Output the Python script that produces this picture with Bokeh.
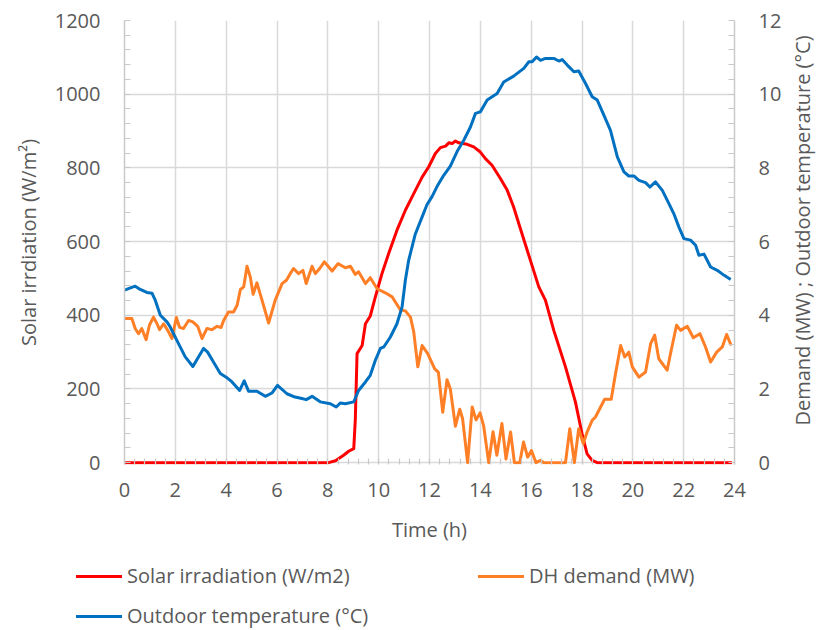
import math

from bokeh.plotting import figure
from bokeh.layouts import row, column
from bokeh.models import Range1d, LinearAxis, SingleIntervalTicker, Label, Div
from bokeh.embed import file_html
from bokeh.resources import INLINE

# Solar irradiation over the day (W/m2)
solar_time = [0, 8.03, 8.3, 8.62, 8.82, 9.02, 9.08, 9.15, 9.35, 9.48, 9.67, 9.87, 10.13,
              10.39, 10.72, 11.05, 11.38, 11.71, 11.97, 12.23, 12.43, 12.63, 12.76, 12.89,
              13.02, 13.15, 13.48, 13.74, 14.0, 14.2, 14.46, 14.79, 15.06, 15.31, 15.58,
              15.97, 16.3, 16.56, 16.89, 17.35, 17.74, 18.0, 18.2, 18.4, 18.6, 23.9]
solar_wm2 = [0, 0, 5, 20, 31, 38, 115, 296, 318, 377, 398, 450, 513,
             567, 631, 685, 730, 775, 803, 839, 855, 859, 868, 866,
             873, 868, 864, 857, 843, 825, 807, 771, 739, 694, 634,
             549, 477, 441, 359, 260, 165, 79, 24, 6, 0, 0]

# District heating demand (MW)
demand_time = [0, 0.29, 0.42, 0.55, 0.68, 0.85, 0.98, 1.14, 1.28, 1.38, 1.54, 1.7, 1.87,
               2.04, 2.17, 2.32, 2.52, 2.69, 2.88, 3.05, 3.24, 3.44, 3.64, 3.8, 3.9, 4.09,
               4.29, 4.43, 4.56, 4.69, 4.82, 4.95, 5.06, 5.21, 5.41, 5.67, 5.93, 6.2, 6.37,
               6.52, 6.65, 6.85, 7.02, 7.15, 7.38, 7.51, 7.68, 7.86, 8.17, 8.4, 8.69, 8.89,
               9.08, 9.21, 9.48, 9.67, 9.94, 10.26, 10.53, 10.85, 11.05, 11.25, 11.38, 11.54,
               11.71, 11.93, 12.2, 12.35, 12.52, 12.69, 12.82, 13.02, 13.19, 13.3, 13.5,
               13.68, 13.83, 13.99, 14.13, 14.33, 14.5, 14.65, 14.85, 15.01, 15.19, 15.34,
               15.55, 15.7, 15.86, 16.01, 16.19, 16.37, 16.5, 17.35, 17.52, 17.7, 17.87,
               18.05, 18.2, 18.4, 18.53, 18.89, 19.15, 19.32, 19.52, 19.68, 19.84, 19.98,
               20.24, 20.5, 20.7, 20.86, 21.02, 21.35, 21.51, 21.72, 21.88, 22.14, 22.38,
               22.64, 22.86, 23.06, 23.3, 23.52, 23.69, 23.87]
demand_mw = [3.91, 3.91, 3.64, 3.5, 3.64, 3.34, 3.73, 3.95, 3.77, 3.61, 3.77, 3.59, 3.37,
             3.94, 3.67, 3.64, 3.86, 3.82, 3.7, 3.37, 3.64, 3.61, 3.7, 3.67, 3.86, 4.09,
             4.09, 4.27, 4.7, 4.77, 5.33, 5.04, 4.57, 4.88, 4.41, 3.79, 4.41, 4.86, 4.95,
             5.13, 5.27, 5.13, 5.22, 4.86, 5.33, 5.13, 5.27, 5.45, 5.2, 5.4, 5.29, 5.33,
             5.11, 5.18, 4.86, 5.02, 4.72, 4.61, 4.5, 4.15, 4.12, 3.95, 3.55, 2.6,
             3.18, 2.96, 2.55, 2.45, 1.37, 2.25, 2.0, 0.99, 1.45, 1.2, 0.0,
             1.51, 1.16, 1.35, 1.0, 0.0, 0.84, 0.2, 1.06, 0.1, 0.83, 0.0,
             0.0, 0.56, 0.15, 0.33, 0.0, 0.06, 0.0, 0.0, 0.92, 0.0, 0.92,
             0.52, 0.83, 1.15, 1.24, 1.72, 1.72, 2.42, 3.18, 2.87, 3.0, 2.6,
             2.32, 2.46, 3.23, 3.46, 2.82, 2.51, 3.05, 3.73, 3.59, 3.7, 3.39,
             3.5, 3.14, 2.73, 3.0, 3.14, 3.48, 3.18]

# Outdoor temperature (°C)
temp_time = [0, 0.42, 0.62, 0.88, 1.08, 1.21, 1.41, 1.67, 1.8, 2.06, 2.39, 2.69, 2.91,
             3.11, 3.27, 3.5, 3.77, 4.0, 4.23, 4.53, 4.71, 4.88, 5.21, 5.54, 5.8, 6.02,
             6.39, 6.71, 6.98, 7.15, 7.38, 7.7, 8.1, 8.33, 8.49, 8.69, 9.02, 9.21, 9.48,
             9.67, 9.87, 10.07, 10.2, 10.46, 10.72, 10.92, 11.05, 11.18, 11.44, 11.71,
             11.9, 12.1, 12.3, 12.56, 12.82, 13.09, 13.35, 13.61, 13.81, 14.0, 14.27,
             14.66, 14.92, 15.31, 15.71, 15.91, 16.04, 16.21, 16.37, 16.56, 16.89, 17.09,
             17.22, 17.42, 17.68, 17.87, 18.14, 18.4, 18.6, 18.86, 19.12, 19.39, 19.65,
             19.84, 20.04, 20.24, 20.5, 20.67, 20.89, 21.16, 21.42, 21.61, 21.81, 22.01,
             22.27, 22.47, 22.6, 22.8, 23.06, 23.32, 23.58, 23.85]
temp_c = [4.68, 4.79, 4.7, 4.62, 4.6, 4.41, 4.0, 3.82, 3.68, 3.32, 2.87, 2.61, 2.87,
          3.1, 3.0, 2.73, 2.42, 2.32, 2.19, 1.96, 2.22, 1.94, 1.94, 1.8, 1.89, 2.1,
          1.87, 1.78, 1.74, 1.71, 1.8, 1.65, 1.6, 1.51, 1.62, 1.6, 1.65, 1.96, 2.19,
          2.37, 2.78, 3.1, 3.14, 3.41, 3.77, 4.22, 4.95, 5.49, 6.2, 6.67,
          7.0, 7.22, 7.5, 7.8, 8.05, 8.45, 8.75, 9.11, 9.48, 9.52, 9.84,
          10.02, 10.33, 10.49, 10.7, 10.88, 10.88, 11.01, 10.92, 10.97, 10.97, 10.9,
          10.94, 10.79, 10.61, 10.63, 10.29, 9.93, 9.84, 9.43, 9.02, 8.3, 7.89,
          7.78, 7.78, 7.66, 7.6, 7.48, 7.62, 7.39, 7.03, 6.76, 6.4, 6.08,
          6.04, 5.9, 5.63, 5.66, 5.31, 5.22, 5.09, 4.97]

series_labels = ["Solar irradiation (W/m2)", "DH demand (MW)", "Outdoor temperature (°C)"]
series_colors = ["#ff0000", "#ff7f27", "#0070c0"]
right_title = "Demand (MW) ; Outdoor temperature (°C)"

FONT = "Open Sans"
TEXT = "#595959"
GRID = "#d9d9d9"
AXIS = "#c9c9c9"

# Main chart; the value axes start a hair below zero so lines resting on
# zero stay fully visible above the baseline.
p = figure(frame_width=610, frame_height=444,
           x_range=Range1d(0, 24), y_range=Range1d(-5, 1200),
           min_border_left=124, min_border_right=50,
           min_border_top=20, min_border_bottom=100,
           output_backend="svg", toolbar_location=None)
p.extra_y_ranges = {"right": Range1d(-0.05, 12)}
p.outline_line_color = None
p.background_fill_color = "white"
p.border_fill_color = "white"

right_axis = LinearAxis(y_range_name="right")
p.add_layout(right_axis, "right")

p.xaxis.ticker = SingleIntervalTicker(interval=2, num_minor_ticks=5)
p.yaxis[0].ticker = SingleIntervalTicker(interval=200, num_minor_ticks=5)
right_axis.ticker = SingleIntervalTicker(interval=2, num_minor_ticks=5)

for ax in [p.xaxis[0], p.yaxis[0], right_axis]:
    ax.axis_line_color = AXIS
    ax.axis_line_width = 1.5
    ax.major_tick_in = 0
    ax.major_tick_out = 0
    ax.minor_tick_in = 6
    ax.minor_tick_out = 0
    ax.minor_tick_line_color = AXIS
    ax.minor_tick_line_width = 1.2
    ax.major_label_text_font = FONT
    ax.major_label_text_font_size = "20px"
    ax.major_label_text_color = TEXT
    ax.axis_label_text_font = FONT
    ax.axis_label_text_font_size = "20px"
    ax.axis_label_text_color = TEXT
    ax.axis_label_text_font_style = "normal"

p.xaxis.axis_line_color = None
p.xaxis.axis_label = "Time (h)"
p.xaxis.major_label_standoff = 18
p.xaxis.axis_label_standoff = 16
p.yaxis[0].axis_label = "Solar irrdiation (W/m²)"
p.yaxis[0].major_label_standoff = 24
p.yaxis[0].axis_label_standoff = 10
right_axis.major_label_standoff = 24

p.xgrid.grid_line_color = GRID
p.ygrid.grid_line_color = GRID
p.xgrid.grid_line_width = 1.5
p.ygrid.grid_line_width = 1.5

line_kw = dict(line_width=3, line_join="round")
p.line(solar_time, solar_wm2, line_color=series_colors[0], **line_kw)
p.line(demand_time, demand_mw, line_color=series_colors[1], y_range_name="right", **line_kw)
p.line(temp_time, temp_c, line_color=series_colors[2], y_range_name="right", **line_kw)

# Narrow strip holding the right-hand axis title, read bottom to top
title_fig = figure(frame_width=39, frame_height=444, x_range=Range1d(0, 1),
                   y_range=Range1d(0, 1), x_axis_type=None, y_axis_type=None,
                   min_border_left=0, min_border_right=0,
                   min_border_top=20, min_border_bottom=100,
                   output_backend="svg", toolbar_location=None)
title_fig.outline_line_color = None
title_fig.grid.visible = False
title_fig.add_layout(Label(x=18, y=234, x_units="screen", y_units="screen",
                           text=right_title, angle=math.pi / 2,
                           text_align="center", text_baseline="middle",
                           text_font=FONT, text_font_size="20px", text_color=TEXT))

# Legend strip: two columns, entries filled row by row
legend_cols = [76, 478]
legend_rows = [0, 40]
entries = []
for i, (lab, col) in enumerate(zip(series_labels, series_colors)):
    left = legend_cols[i % 2]
    top = legend_rows[i // 2]
    entries.append(
        f'<div style="position:absolute;left:{left}px;top:{top}px;height:24px;'
        f'display:flex;align-items:center;white-space:nowrap;">'
        f'<span style="display:inline-block;width:46px;height:3px;background:{col};"></span>'
        f'<span style="margin-left:5px;">{lab}</span></div>')
legend_html = (f'<div style="position:relative;width:823px;height:66px;'
               f'font-family:\'{FONT}\';font-size:20px;line-height:24px;color:{TEXT};">'
               + "".join(entries) + '</div>')
legend_div = Div(text=legend_html, width=823, height=66, margin=0)

layout = column(row(p, title_fig, spacing=0), legend_div, spacing=0)
open("out.html", "w").write(file_html(layout, INLINE))
